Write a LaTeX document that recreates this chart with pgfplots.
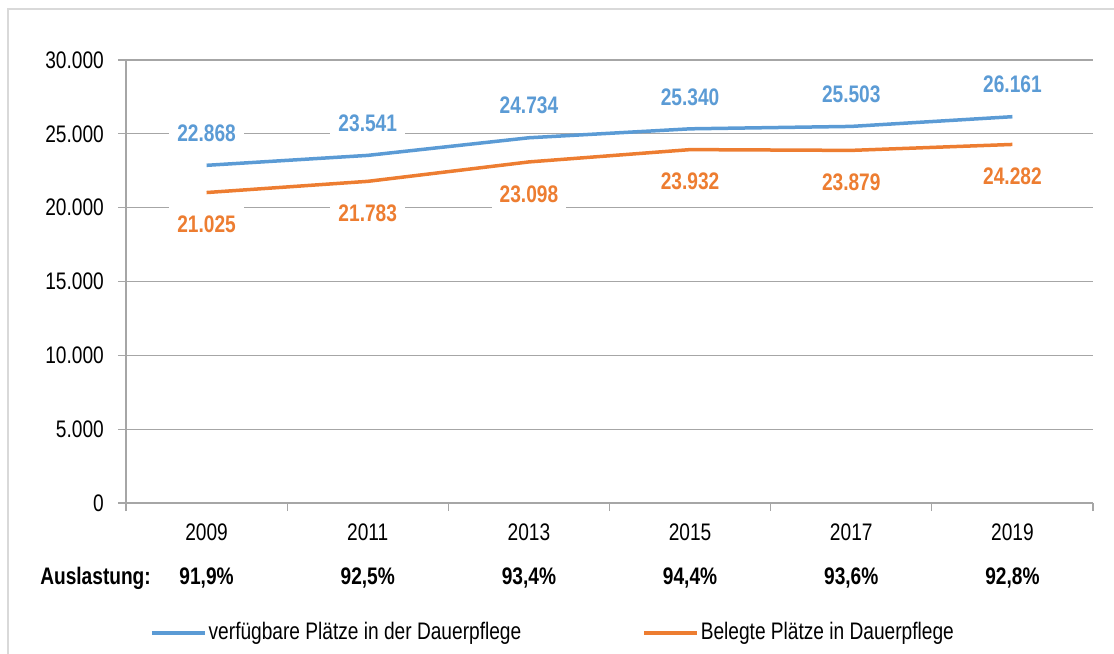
\documentclass[border=0pt]{standalone}
\usepackage{pgfplots}
\pgfplotsset{compat=1.18}
\usepackage{fontspec}
\setmainfont{Liberation Sans}[FakeStretch=0.8]
\definecolor{verfblue}{HTML}{5B9BD5}
\definecolor{belorange}{HTML}{ED7D31}
\definecolor{gridgray}{HTML}{A6A6A6}
\definecolor{framegray}{HTML}{D9D9D9}

\begin{document}
\fontsize{24}{28}\selectfont
\begin{tikzpicture}
\useasboundingbox (0,0) rectangle (1114bp,-654bp);
\draw[framegray, line width=1.5bp] (8bp,-654bp) -- (8bp,-9bp) -- (1114bp,-9bp);
\begin{axis}[
    at={(126bp,-503bp)}, anchor=south west,
    scale only axis, width=967bp, height=443bp,
    xmin=-0.5, xmax=5.5, ymin=0, ymax=30000,
    axis x line*=bottom, axis y line*=left,
    axis line style={gridgray, line width=1.3bp},
    every tick/.style={gridgray, line width=1.3bp},
    tick align=outside, major tick length=8bp,
    ytick={0,5000,10000,15000,20000,25000,30000},
    scaled y ticks=false,
    yticklabel style={xshift=-6bp},
    xticklabel style={yshift=-13bp},
    /pgf/number format/assume math mode=true,
    /pgf/number format/1000 sep={.},
    ymajorgrids, grid style={gridgray, line width=1.3bp},
    xtick={-0.5,0.5,1.5,2.5,3.5,4.5,5.5},
    xticklabels={},
    extra x ticks={0,1,2,3,4,5},
    extra x tick labels={2009,2011,2013,2015,2017,2019},
    extra x tick style={major tick length=0pt, grid=none},
    clip=false,
    nodes near coords={\pgfmathprintnumber{\pgfplotspointmeta}},
    every node near coord/.append style={font=\bfseries, fill=white, anchor=center, inner xsep=8bp, inner ysep=9bp},
    legend style={at={(0.4416,-0.2935)}, anchor=center, draw=none, fill=none,
        legend columns=2, /tikz/every even column/.append style={column sep=119bp}},
    legend image code/.code={\draw[#1, line width=3.5bp] (0bp,0bp) -- (53bp,0bp);},
]
\addplot[verfblue, line width=3.5bp, every node near coord/.append style={text=verfblue, yshift=32bp}]
    coordinates {(0,22868) (1,23541) (2,24734) (3,25340) (4,25503) (5,26161)};
\addlegendentry{verfügbare Plätze in der Dauerpflege}
\addplot[belorange, line width=3.5bp, every node near coord/.append style={text=belorange, yshift=-32bp}]
    coordinates {(0,21025) (1,21783) (2,23098) (3,23932) (4,23879) (5,24282)};
\addlegendentry{Belegte Plätze in Dauerpflege}
\node[font=\bfseries, anchor=east, inner sep=0pt] at (rel axis cs:0,0) [xshift=25bp, yshift=-75bp] {Auslastung:};
\node[font=\bfseries] at (axis cs:0,0) [yshift=-75bp] {91,9\%};
\node[font=\bfseries] at (axis cs:1,0) [yshift=-75bp] {92,5\%};
\node[font=\bfseries] at (axis cs:2,0) [yshift=-75bp] {93,4\%};
\node[font=\bfseries] at (axis cs:3,0) [yshift=-75bp] {94,4\%};
\node[font=\bfseries] at (axis cs:4,0) [yshift=-75bp] {93,6\%};
\node[font=\bfseries] at (axis cs:5,0) [yshift=-75bp] {92,8\%};
\end{axis}
\end{tikzpicture}
\end{document}
